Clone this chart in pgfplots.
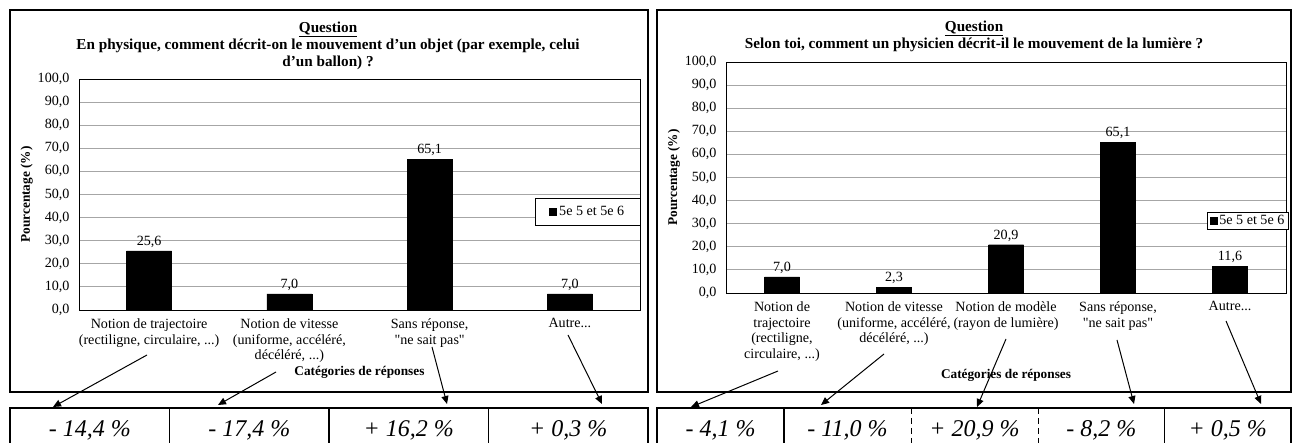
\documentclass[border=0pt]{standalone}
\usepackage{fontspec}
\setmainfont{Liberation Serif}[Ligatures=TeXOff]
\usepackage{pgfplots}
\pgfplotsset{compat=1.18}
\usetikzlibrary{arrows.meta}

\newcommand\cf{\fontsize{14.1}{15.8}\selectfont}
\newcommand\lf{\fontsize{13.3}{15}\selectfont\bfseries}
\newcommand\qf{\fontsize{15.2}{17.2}\selectfont\bfseries}
\newcommand\tf{\fontsize{24}{28}\selectfont\itshape}
\newcommand\ddd{...}

\pgfplotsset{
  enquete/.style={
    scale only axis,
    ybar,
    ymin=0, ymax=100,
    ytick={0,10,20,30,40,50,60,70,80,90,100},
    ymajorgrids,
    grid style={gray!70, line width=0.8pt},
    axis line style={black, line width=0.8pt},
    major tick length=0pt,
    xtick=data,
    xticklabel style={align=center, font=\cf, yshift=-5pt},
    yticklabel style={font=\cf, xshift=-6pt},
    /pgf/number format/fixed,
    /pgf/number format/fixed zerofill,
    /pgf/number format/precision=1,
    /pgf/number format/use comma,
    /pgf/number format/assume math mode=true,
    nodes near coords,
    nodes near coords style={font=\cf, black},
    ylabel={Pourcentage (\%)},
    xlabel={Catégories de réponses},
    label style={font=\lf},
    title style={font=\qf, align=center, anchor=center, yshift=-9pt},
    legend image code/.code={\fill[black] (0pt,-3.5pt) rectangle (7pt,3.5pt);},
    legend style={draw=black, line width=0.8pt, font=\cf, anchor=center},
  }
}

\begin{document}
\begin{tikzpicture}

% graphique de gauche
\begin{axis}[enquete,
  at={(79pt,133pt)}, anchor=south west,
  width=561pt, height=231pt,
  xmin=-0.5, xmax=3.5,
  bar width=45pt,
  xticklabels={{Notion de trajectoire\\(rectiligne, circulaire, \ddd)},
               {Notion de vitesse\\(uniforme, accéléré,\\décéléré, \ddd)},
               {Sans réponse,\\"ne sait pas"},
               {Autre\ddd}},
  title={\underline{Question}\\En physique, comment décrit-on le mouvement d’un objet (par exemple, celui\\d’un ballon) ?},
  title style={at={(axis description cs:0.444,1.157)}},
  ylabel style={at={(axis description cs:-0.093,0.5)}, anchor=center},
  xlabel style={at={(axis description cs:0.5,-0.268)}, anchor=center},
  legend style={at={(axis description cs:0.907,0.424)}, inner xsep=14pt, inner ysep=6pt},
]
\addplot[fill=black, draw=black] coordinates {(0,25.6) (1,7.0) (2,65.1) (3,7.0)};
\addlegendentry{5e 5 et 5e 6}
\end{axis}

% graphique de droite
\begin{axis}[enquete,
  at={(726pt,150pt)}, anchor=south west,
  width=560pt, height=231pt,
  xmin=-0.5, xmax=4.5,
  bar width=35pt,
  xticklabels={{Notion de\\trajectoire\\(rectiligne,\\circulaire, \ddd)},
               {Notion de vitesse\\(uniforme, accéléré,\\décéléré, \ddd)},
               {Notion de modèle\\(rayon de lumière)},
               {Sans réponse,\\"ne sait pas"},
               {Autre\ddd}},
  title={\underline{Question}\\Selon toi, comment un physicien décrit-il le mouvement de la lumière ?},
  title style={at={(axis description cs:0.443,1.123)}},
  ylabel style={at={(axis description cs:-0.093,0.5)}, anchor=center},
  xlabel style={at={(axis description cs:0.5,-0.355)}, anchor=center},
  legend style={at={(axis description cs:0.932,0.312)}, inner xsep=2pt, inner ysep=1pt},
]
\addplot[fill=black, draw=black] coordinates {(0,7.0) (1,2.3) (2,20.9) (3,65.1) (4,11.6)};
\addlegendentry{5e 5 et 5e 6}
\end{axis}

\begin{scope}[x=1pt, y=1pt]
\path[use as bounding box] (0,0) rectangle (1295,443);

% cadres
\draw[line width=2pt] (10,433) rectangle (648,51);
\draw[line width=2pt] (657,433) rectangle (1291,51);

% tableaux des écarts
\draw[line width=1.5pt] (10,-5) -- (10,35) -- (648,35) -- (648,-5);
\foreach \x in {169.5,329,488.5} \draw[line width=1.5pt] (\x,35) -- (\x,-5);
\draw[line width=1.5pt] (657,-5) -- (657,35) -- (1291,35) -- (1291,-5);
\draw[line width=1.5pt] (784,35) -- (784,-5);
\draw[line width=1.5pt] (1164.5,35) -- (1164.5,-5);
\draw[line width=1pt, dash pattern=on 6pt off 4pt] (911,35) -- (911,-5);
\draw[line width=1pt, dash pattern=on 6pt off 4pt] (1038,35) -- (1038,-5);

\foreach \x/\t in {89.75/{- 14,4 \%}, 249.25/{- 17,4 \%}, 408.75/{+ 16,2 \%}, 568.25/{+ 0,3 \%},
                   720.5/{- 4,1 \%}, 847.5/{- 11,0 \%}, 974.5/{+ 20,9 \%}, 1101.25/{- 8,2 \%}, 1227.75/{+ 0,5 \%}}
  \node[font=\tf] at (\x,13) {\t};

% flèches
\begin{scope}[line width=1pt, -{Triangle[length=8pt, width=7pt]}]
\draw (147,88) -- (53,36);
\draw (276,71) -- (218,38);
\draw (432,96) -- (447,39);
\draw (568,108) -- (602,39);
\draw (778,72) -- (691,36);
\draw (884,89) -- (821,38);
\draw (1006,104) -- (977,36);
\draw (1117,103) -- (1134,39);
\draw (1226,122) -- (1261,39);
\end{scope}
\end{scope}
\end{tikzpicture}
\end{document}
